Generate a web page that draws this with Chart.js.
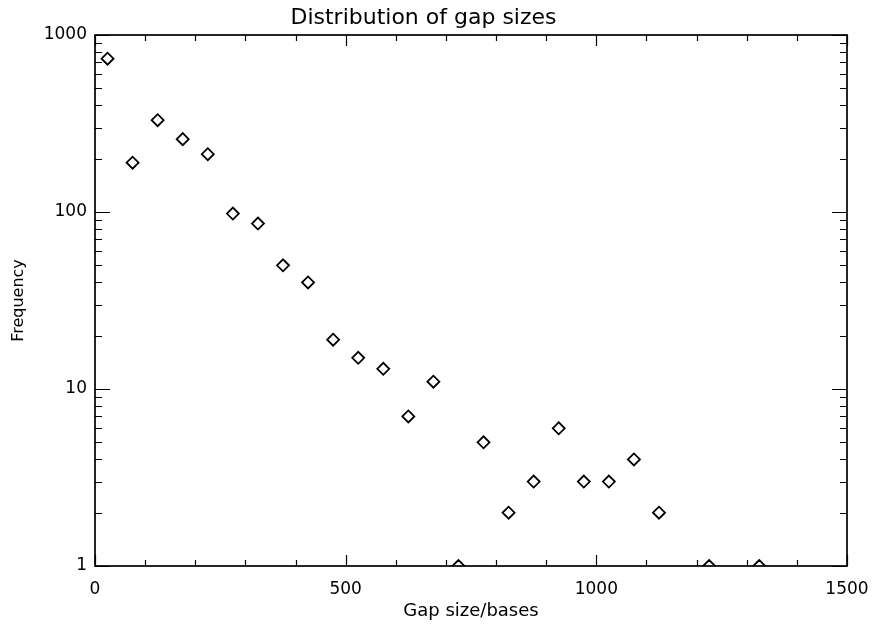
<!DOCTYPE html>
<html>
<head>
<meta charset="utf-8">
<script src="https://cdn.jsdelivr.net/npm/chart.js@4.4.1/dist/chart.umd.min.js"></script>
<style>
  html, body { margin: 0; padding: 0; background: #fff; }
  #c { display: block; }
</style>
</head>
<body>
<canvas id="c" width="874" height="625"></canvas>
<script>
// ---- data ----
const gapSize   = [25, 75, 125, 175, 225, 275, 325, 375, 425, 475, 525, 575, 625, 675, 725, 775, 825, 875, 925, 975, 1025, 1075, 1125, 1225, 1325];
const frequency = [735, 190, 330, 258, 212, 98, 86, 50, 40, 19, 15, 13, 7, 11, 1, 5, 2, 3, 6, 3, 3, 4, 2, 1, 1];
const xMajor = [0, 500, 1000, 1500];
const yMajor = [1, 10, 100, 1000];

const FONT = 'DejaVu Sans';

// boxed frame + inward ticks on all four sides (IDL look)
const frameTicks = {
  id: 'frameTicks',
  afterDatasetsDraw(chart) {
    const { ctx, chartArea: a, scales: { x, y } } = chart;
    ctx.save();
    ctx.strokeStyle = '#000';
    ctx.lineWidth = 1.7;
    ctx.strokeRect(a.left, a.top, a.right - a.left, a.bottom - a.top);
    ctx.lineWidth = 1.2;
    ctx.beginPath();
    // x ticks every 100, major every 500
    for (let v = 0; v <= 1500; v += 100) {
      const px = Math.round(x.getPixelForValue(v)) + 0.5;
      const len = xMajor.includes(v) ? 11 : 6;
      ctx.moveTo(px, a.bottom); ctx.lineTo(px, a.bottom - len);
      ctx.moveTo(px, a.top); ctx.lineTo(px, a.top + len);
    }
    // y ticks 1..9 per decade
    for (let d = 1; d < 1000; d *= 10) {
      for (let m = 1; m <= 10; m++) {
        const v = d * m;
        const py = Math.round(y.getPixelForValue(v)) + 0.5;
        const len = yMajor.includes(v) ? 15 : 7;
        ctx.moveTo(a.left, py); ctx.lineTo(a.left + len, py);
        ctx.moveTo(a.right, py); ctx.lineTo(a.right - len, py);
      }
    }
    ctx.stroke();
    ctx.restore();
  }
};

new Chart(document.getElementById('c'), {
  type: 'scatter',
  data: {
    datasets: [{
      data: gapSize.map((g, i) => ({ x: g, y: frequency[i] })),
      pointStyle: 'rectRot',
      pointRadius: 6,
      pointBorderWidth: 1.8,
      borderColor: '#000',
      backgroundColor: 'rgba(255,255,255,0)',
      clip: 0
    }]
  },
  options: {
    responsive: false,
    animation: false,
    devicePixelRatio: 1,
    layout: { padding: { left: 0, right: 27, top: 0, bottom: 0 } },
    plugins: {
      legend: { display: false },
      tooltip: { enabled: false },
      title: {
        display: true,
        text: 'Distribution of gap sizes',
        color: '#000',
        font: { family: FONT, size: 22, weight: 'normal' },
        padding: { top: 5, bottom: 3.6 }
      }
    },
    scales: {
      x: {
        type: 'linear',
        min: 0, max: 1500,
        border: { display: false },
        grid: { display: false, drawTicks: false },
        ticks: {
          stepSize: 500,
          color: '#000',
          padding: 13,
          font: { family: FONT, size: 17 },
          maxRotation: 0,
          callback: (v) => String(v)
        },
        title: {
          display: true,
          text: 'Gap size/bases',
          color: '#000',
          font: { family: FONT, size: 18 },
          padding: { top: 0, bottom: 3 }
        },
        afterFit(scale) {
          scale.height = 59;
          scale.paddingLeft = 0;
          scale.paddingRight = 0;
        }
      },
      y: {
        type: 'logarithmic',
        min: 1, max: 1000,
        border: { display: false },
        grid: { display: false, drawTicks: false },
        ticks: {
          autoSkip: false,
          color: '#000',
          padding: 8,
          font: { family: FONT, size: 17 },
          callback: (v) => yMajor.includes(v) ? String(v) : ''
        },
        title: {
          display: true,
          text: 'Frequency',
          color: '#000',
          font: { family: FONT, size: 16 },
          padding: { top: 9.5, bottom: 0 }
        },
        afterFit(scale) {
          scale.width = 95;
          scale.paddingTop = 0;
          scale.paddingBottom = 0;
        }
      }
    }
  },
  plugins: [frameTicks]
});
</script>
</body>
</html>
